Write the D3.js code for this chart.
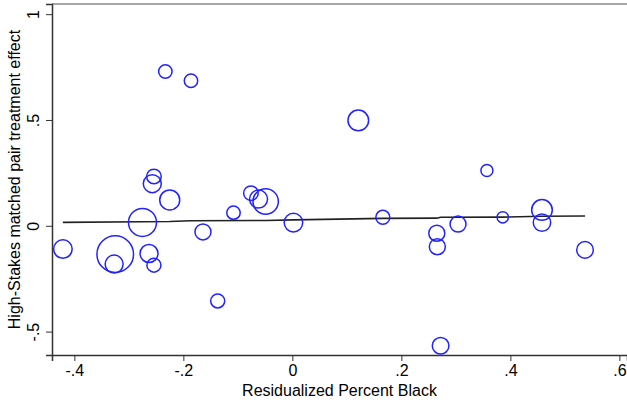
<!DOCTYPE html>
<meta charset="utf-8">
<script src="https://d3js.org/d3.v7.min.js"></script>
<style>
  body { margin: 0; background: #fff; }
  text { font-family: "Liberation Sans", Arial, Helvetica, sans-serif; fill: #000; }
</style>
<body>
<div id="chart"></div>
<script>
// residualized percent black (x), matched pair effect (y), weight (circle area)
const pctBlack = [-0.421, -0.325, -0.327, -0.275, -0.263, -0.254, -0.254, -0.257, -0.225, -0.233,
                  -0.186, -0.164, -0.137, -0.108, -0.076, -0.062, -0.049, 0.002, 0.121, 0.166,
                  0.265, 0.266, 0.272, 0.304, 0.357, 0.386, 0.458, 0.458, 0.537];
const effect = [-0.110, -0.134, -0.181, 0.016, -0.131, -0.186, 0.233, 0.199, 0.122, 0.729,
                0.685, -0.029, -0.355, 0.062, 0.154, 0.126, 0.115, 0.015, 0.498, 0.040,
                -0.035, -0.099, -0.567, 0.008, 0.261, 0.040, 0.075, 0.015, -0.114];
const weights = [86, 335, 81, 196, 81, 49, 53, 81, 100, 45,
                 45, 64, 49, 45, 53, 81, 161, 86, 106, 49,
                 64, 64, 69, 64, 36, 32, 106, 76, 69];

// fitted line
const fitX = [-0.421, -0.275, -0.225, -0.186, -0.049, 0.002, 0.166, 0.265, 0.272, 0.386, 0.458, 0.537];
const fitY = [0.016, 0.019, 0.020, 0.024, 0.025, 0.028, 0.035, 0.036, 0.040, 0.041, 0.045, 0.046];

const xTicks = [-0.4, -0.2, 0, 0.2, 0.4, 0.6];
const yTicks = [-0.5, 0, 0.5, 1];
const fmt = d => d === 0 ? "0" : String(d).replace("0.", ".");

const W = 627, H = 407;
const margin = {top: 4, right: 0, bottom: 52, left: 52};

const svg = d3.select("#chart").append("svg")
  .attr("width", W).attr("height", H);

const x = d3.scaleLinear().domain([-0.441, 0.614]).range([margin.left, W - margin.right]);
const y = d3.scaleLinear().domain([-0.6106, 1.048]).range([H - margin.bottom, margin.top]);
const r = d3.scaleSqrt().domain([0, d3.max(weights)]).range([0, 18.3]);

// top border of plot region
svg.append("line")
  .attr("x1", margin.left).attr("x2", W)
  .attr("y1", margin.top).attr("y2", margin.top)
  .attr("stroke", "#888").attr("stroke-width", 1.5);

// x axis
const gx = svg.append("g")
  .attr("transform", `translate(0,${H - margin.bottom})`)
  .call(d3.axisBottom(x).tickValues(xTicks).tickFormat(fmt).tickSize(6).tickPadding(4));
gx.select(".domain").attr("stroke", "#333").attr("stroke-width", 1.5);
gx.selectAll(".tick line").attr("stroke", "#333");
gx.selectAll(".tick text").attr("font-size", 16).attr("fill", "#000");

// y axis (labels rotated like Stata)
const gy = svg.append("g")
  .attr("transform", `translate(${margin.left},0)`)
  .call(d3.axisLeft(y).tickValues(yTicks).tickFormat(fmt).tickSize(6));
gy.select(".domain").attr("stroke", "#333").attr("stroke-width", 1.5);
gy.selectAll(".tick line").attr("stroke", "#333");
gy.selectAll(".tick text")
  .attr("font-size", 16).attr("fill", "#000")
  .attr("x", 0).attr("dy", 0)
  .attr("text-anchor", "middle")
  .attr("transform", "translate(-13,0) rotate(-90)");

// fit line
svg.append("path")
  .datum(fitX.map((d, i) => [d, fitY[i]]))
  .attr("fill", "none")
  .attr("stroke", "#222")
  .attr("stroke-width", 1.6)
  .attr("d", d3.line().x(d => x(d[0])).y(d => y(d[1])));

// weighted hollow circles
svg.append("g").selectAll("circle")
  .data(pctBlack.map((d, i) => ({x: d, y: effect[i], w: weights[i]})))
  .join("circle")
    .attr("cx", d => x(d.x))
    .attr("cy", d => y(d.y))
    .attr("r", d => r(d.w))
    .attr("fill", "none")
    .attr("stroke", "#2222ff")
    .attr("stroke-width", 1.5);

// axis titles
svg.append("text")
  .attr("x", (margin.left + W) / 2).attr("y", 396)
  .attr("text-anchor", "middle").attr("font-size", 16)
  .text("Residualized Percent Black");

svg.append("text")
  .attr("transform", `translate(19.5,${(margin.top + H - margin.bottom) / 2}) rotate(-90)`)
  .attr("text-anchor", "middle").attr("font-size", 16)
  .text("High-Stakes matched pair treatment effect");
</script>
</body>
